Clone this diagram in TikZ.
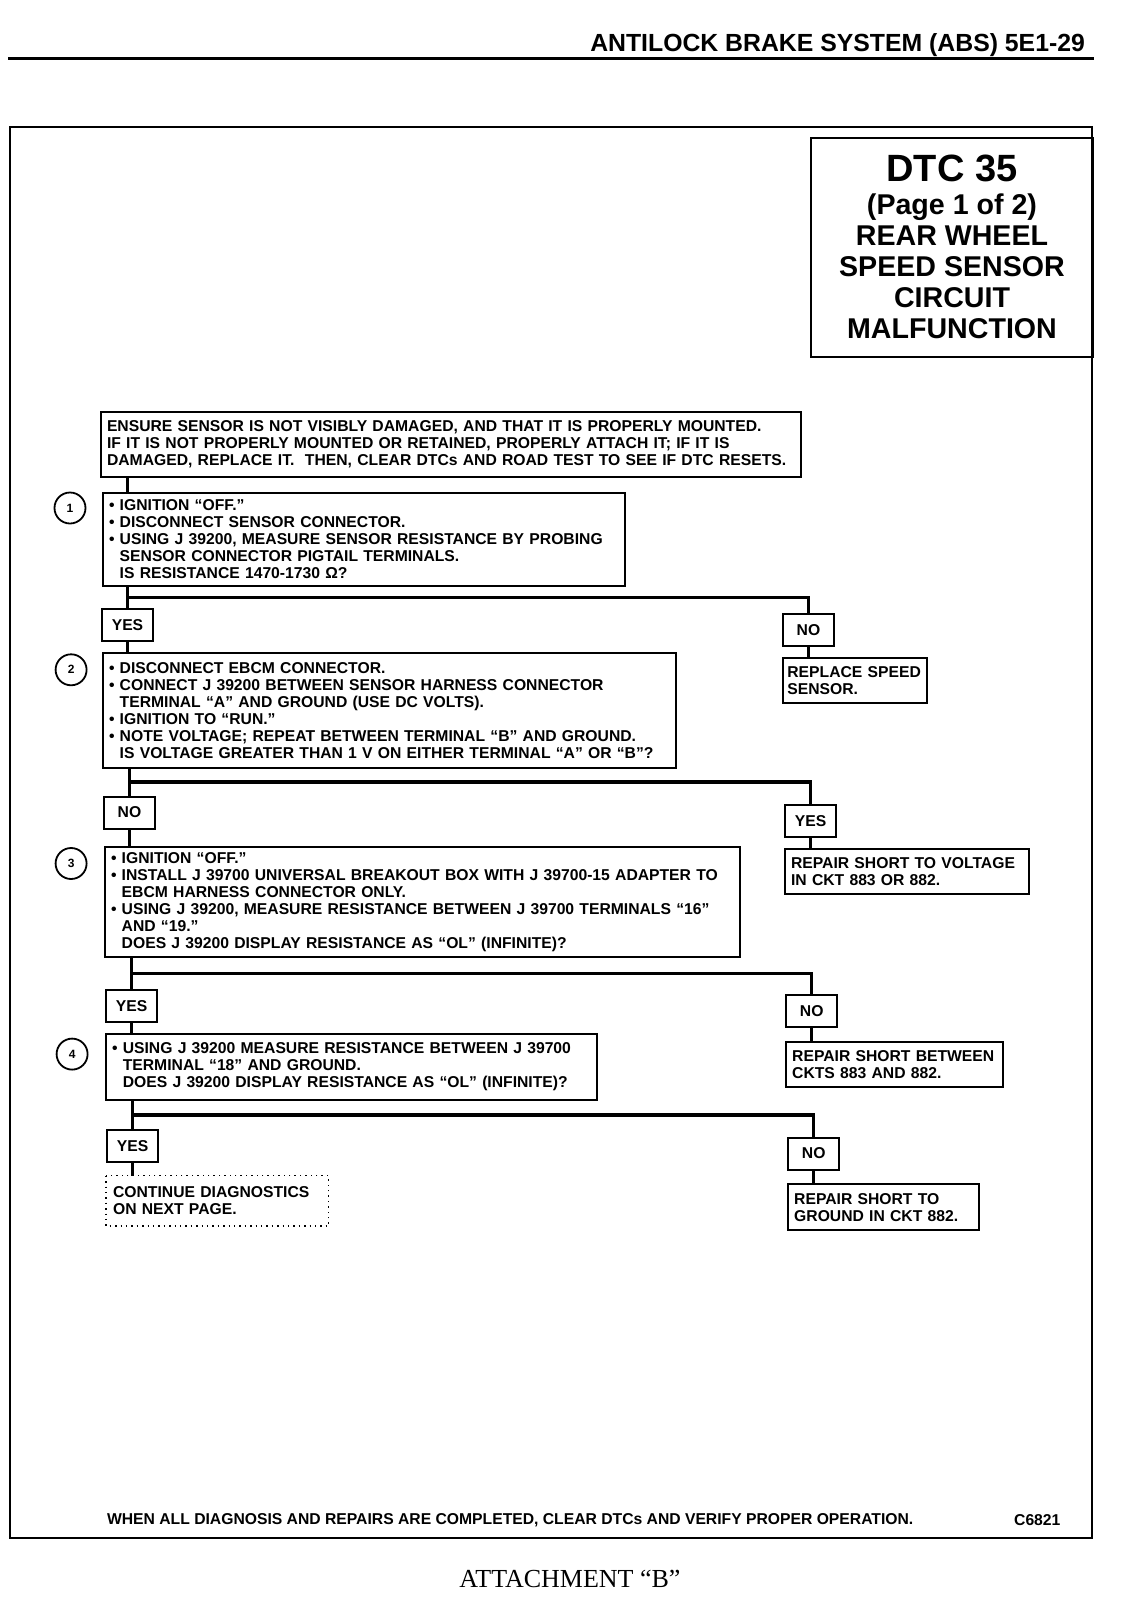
\documentclass[tikz,border=0pt]{standalone}
\usepackage{fontspec}
\usepackage{tikz}
\usetikzlibrary{calc}
\setmainfont{Liberation Sans}
\newfontfamily\serifface{Liberation Serif}
\definecolor{ink}{RGB}{0, 0, 0}
\newcommand{\chart}{\bfseries\fontsize{7.85}{8.5}\selectfont}
\newcommand{\bul}{\textbullet\ }
\newcommand{\hang}{\phantom{\textbullet\ }}
\newcommand{\branch}[3]{
  \draw[link] (#1.south -| #2.north) -- (#2.north);
  \draw[link] ($(#1.south -| #2.north)!0.5!(#2.north)$) -| (#3.north);
}
\newcommand{\drop}[2]{
  \draw[link] (#1.south) -- (#1.south |- #2.north);
}

\begin{document}
\begin{tikzpicture}[x=0.5pt, y=-0.5pt,
    stepbox/.style={draw=ink, line width=1pt, anchor=north west, align=left,
      inner xsep=3pt, inner ysep=0pt, font=\chart},
    answer/.style={draw=ink, line width=1pt, anchor=north west,
      minimum width=25.5pt, minimum height=16pt, inner sep=0pt, font=\chart},
    stepnum/.style={draw=ink, circle, line width=0.9pt, minimum size=15.5pt,
      inner sep=0pt, font=\bfseries\fontsize{6}{6}\selectfont},
    link/.style={draw=ink, line width=1.7pt}]
  \useasboundingbox (0, 0) rectangle (1120, 1616);

  \node[anchor=base east, font=\bfseries\fontsize{12.4}{14}\selectfont] (head)
    at (1092, 52) {ANTILOCK BRAKE SYSTEM (ABS) 5E1-29};
  \draw[ink, line width=1.6pt] (8, 58.7) -- (1094, 58.7);
  \draw[ink, line width=1pt] (10.3, 126.7) rectangle (1092, 1538);

  \node[draw=ink, line width=1pt, anchor=north west, align=center,
        minimum width=141pt, minimum height=109.25pt, inner sep=0pt,
        font=\bfseries\fontsize{14.3}{15.5}\selectfont] (title) at (810, 137)
    {{\fontsize{19}{20}\selectfont DTC 35}\\[0.9pt]
     (Page 1 of 2)\\ REAR WHEEL\\ SPEED SENSOR\\ CIRCUIT\\ MALFUNCTION};

  \node[stepbox, text width=343.8pt, minimum height=32.5pt] (s0) at (100, 411)
    {ENSURE SENSOR IS NOT VISIBLY DAMAGED, AND THAT IT IS PROPERLY MOUNTED.\\
     IF IT IS NOT PROPERLY MOUNTED OR RETAINED, PROPERLY ATTACH IT; IF IT IS\\
     DAMAGED, REPLACE IT.\ \ THEN, CLEAR DTCs AND ROAD TEST TO SEE IF DTC RESETS.};

  % 1
  \node[stepnum] (n1) at (70, 508) {1};
  \node[stepbox, text width=255.2pt, minimum height=46.9pt] (s1) at (102, 491.5)
    {\bul IGNITION “OFF.”\\
     \bul DISCONNECT SENSOR CONNECTOR.\\
     \bul USING J 39200, MEASURE SENSOR RESISTANCE BY PROBING\\
     \hang SENSOR CONNECTOR PIGTAIL TERMINALS.\\
     \hang IS RESISTANCE 1470-1730 Ω?};
  \node[answer] (yes1) at (101, 608) {YES};
  \node[answer] (no1) at (782, 613) {NO};
  \node[stepbox, inner xsep=2.2pt, text width=67.8pt, minimum height=22.2pt] (fix1)
    at (782, 657.4) {REPLACE SPEED\\ SENSOR.};

  % 2
  \node[stepnum] (n2) at (71.1, 669.8) {2};
  \node[stepbox, text width=280.5pt, minimum height=57.2pt] (s2) at (102, 652.2)
    {\bul DISCONNECT EBCM CONNECTOR.\\
     \bul CONNECT J 39200 BETWEEN SENSOR HARNESS CONNECTOR\\
     \hang TERMINAL “A” AND GROUND (USE DC VOLTS).\\
     \bul IGNITION TO “RUN.”\\
     \bul NOTE VOLTAGE; REPEAT BETWEEN TERMINAL “B” AND GROUND.\\
     \hang IS VOLTAGE GREATER THAN 1 V ON EITHER TERMINAL “A” OR “B”?};
  \node[answer] (no2) at (103, 795.5) {NO};
  \node[answer] (yes2) at (784.1, 803.7) {YES};
  \node[stepbox, text width=116.1pt, minimum height=22.7pt] (fix2) at (784.1, 848)
    {REPAIR SHORT TO VOLTAGE\\ IN CKT 883 OR 882.};

  % 3
  \node[stepnum] (n3) at (71.1, 863.5) {3};
  \node[stepbox, text width=311.4pt, minimum height=55.1pt] (s3) at (104, 846)
    {\bul IGNITION “OFF.”\\
     \bul INSTALL J 39700 UNIVERSAL BREAKOUT BOX WITH J 39700-15 ADAPTER TO\\
     \hang EBCM HARNESS CONNECTOR ONLY.\\
     \bul USING J 39200, MEASURE RESISTANCE BETWEEN J 39700 TERMINALS “16”\\
     \hang AND “19.”\\
     \hang DOES J 39200 DISPLAY RESISTANCE AS “OL” (INFINITE)?};
  \node[answer] (yes3) at (105.1, 989.2) {YES};
  \node[answer] (no3) at (785.2, 994.3) {NO};
  \node[stepbox, text width=102.2pt, minimum height=22.7pt] (fix3) at (785.2, 1040.7)
    {REPAIR SHORT BETWEEN\\ CKTS 883 AND 882.};

  % 4
  \node[stepnum] (n4) at (72.1, 1054.1) {4};
  \node[stepbox, text width=239.2pt, minimum height=33pt] (s4) at (105.1, 1032.5)
    {\bul USING J 39200 MEASURE RESISTANCE BETWEEN J 39700\\
     \hang TERMINAL “18” AND GROUND.\\
     \hang DOES J 39200 DISPLAY RESISTANCE AS “OL” (INFINITE)?};
  \node[answer] (yes4) at (106.1, 1129.3) {YES};
  \node[answer] (no4) at (787.2, 1136.5) {NO};
  \node[stepbox, draw=none, text width=104.3pt, minimum height=24.2pt] (next)
    at (106.1, 1175.7) {CONTINUE DIAGNOSTICS\\ ON NEXT PAGE.};
  \draw[ink, line width=0.7pt, dotted] (next.north west) rectangle (next.south east);
  \node[stepbox, text width=89.3pt, minimum height=23.2pt] (fix4) at (787.2, 1182.9)
    {REPAIR SHORT TO\\ GROUND IN CKT 882.};

  \draw[link] (s0.south -| yes1.north) -- (s1.north -| yes1.north);
  \branch{s1}{yes1}{no1}
  \drop{yes1}{s2}
  \drop{no1}{fix1}
  \branch{s2}{no2}{yes2}
  \drop{no2}{s3}
  \drop{yes2}{fix2}
  \branch{s3}{yes3}{no3}
  \drop{yes3}{s4}
  \drop{no3}{fix3}
  \branch{s4}{yes4}{no4}
  \drop{yes4}{next}
  \drop{no4}{fix4}

  \node[anchor=west, font=\chart] (foot) at (100, 1520)
    {WHEN ALL DIAGNOSIS AND REPAIRS ARE COMPLETED, CLEAR DTCs AND VERIFY PROPER OPERATION.};
  \node[anchor=east, font=\chart] (code) at (1067.5, 1520) {C6821};
  \node[font=\serifface\fontsize{13}{14}\selectfont] (attach) at (570, 1578.6)
    {ATTACHMENT “B”};
\end{tikzpicture}
\end{document}
